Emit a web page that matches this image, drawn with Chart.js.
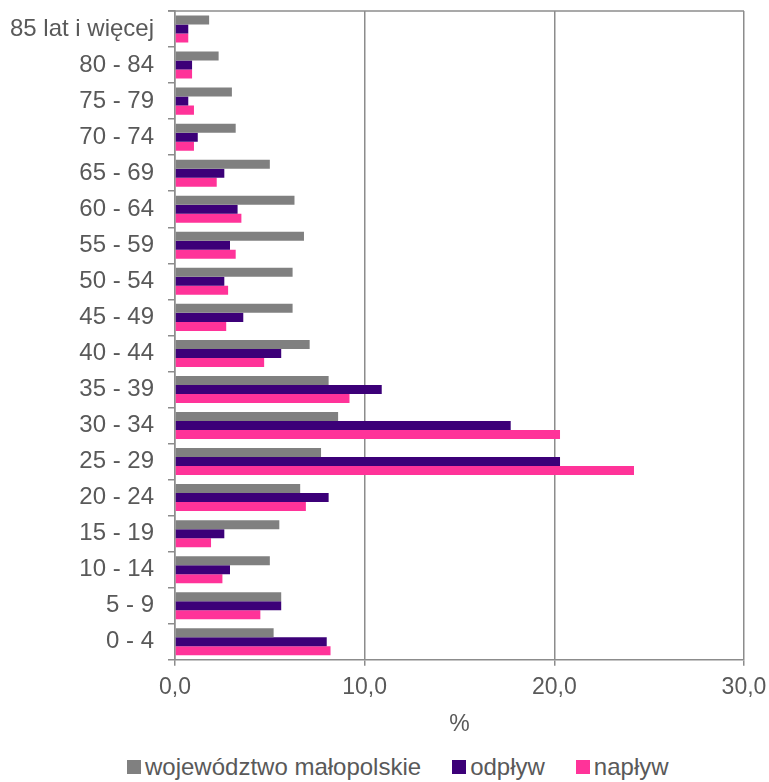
<!DOCTYPE html>
<html lang="pl">
<head>
<meta charset="utf-8">
<title>Struktura wieku</title>
<script src="https://cdn.jsdelivr.net/npm/chart.js@4.4.1/dist/chart.umd.min.js"></script>
<style>
  html, body { margin:0; padding:0; background:#fff; }
  #wrap { position:relative; width:769px; height:782px; font-family:"Liberation Sans", Arial, sans-serif; }
  #box { position:absolute; left:0; top:0; width:769px; height:738px; }
  #legend { position:absolute; left:127px; top:753px; display:flex; align-items:center; color:#595959; font-size:24px; line-height:28px; }
  .lg-item { display:flex; align-items:center; margin-right:31px; }
  .lg-box { width:14px; height:14px; margin-right:4px; }
</style>
</head>
<body>
<div id="wrap">
  <div id="box"><canvas id="age-chart"></canvas></div>
  <div id="legend"></div>
</div>
<script>
/* grupy wieku, od góry do dołu */
const AGE_GROUPS = ['85 lat i więcej','80 - 84','75 - 79','70 - 74','65 - 69','60 - 64','55 - 59','50 - 54',
                    '45 - 49','40 - 44','35 - 39','30 - 34','25 - 29','20 - 24','15 - 19','10 - 14','5 - 9','0 - 4'];

/* udział w % */
const MALOPOLSKA = [1.8, 2.3, 3.0, 3.2, 5.0, 6.3, 6.8, 6.2, 6.2, 7.1, 8.1, 8.6, 7.7, 6.6, 5.5, 5.0, 5.6, 5.2];
const ODPLYW     = [0.7, 0.9, 0.7, 1.2, 2.6, 3.3, 2.9, 2.6, 3.6, 5.6, 10.9, 17.7, 20.3, 8.1, 2.6, 2.9, 5.6, 8.0];
const NAPLYW     = [0.7, 0.9, 1.0, 1.0, 2.2, 3.5, 3.2, 2.8, 2.7, 4.7, 9.2, 20.3, 24.2, 6.9, 1.9, 2.5, 4.5, 8.2];

const SERIES_NAMES = ['województwo małopolskie', 'odpływ', 'napływ'];
const X_TICKS = [0, 10, 20, 30];

const COLORS = ['#808080', '#3c0078', '#ff3399'];
const GRID = '#8c8c8c', TXT = '#595959';

Chart.defaults.font.family = '"Liberation Sans", Arial, sans-serif';

/* górna krawędź obszaru wykresu, z kreską podziałki po lewej */
const topBorder = {
  id: 'topBorder',
  afterDraw(chart) {
    const { ctx, chartArea: a } = chart;
    ctx.save();
    ctx.strokeStyle = GRID;
    ctx.lineWidth = 1.5;
    ctx.beginPath();
    ctx.moveTo(a.left - 7, a.top);
    ctx.lineTo(a.right, a.top);
    ctx.stroke();
    ctx.restore();
  }
};

const series = [MALOPOLSKA, ODPLYW, NAPLYW];
const datasets = series.map((d, i) => ({
  label: SERIES_NAMES[i], data: d, backgroundColor: COLORS[i], borderWidth: 0,
  barPercentage: 1, categoryPercentage: 0.75
}));

new Chart(document.getElementById('age-chart'), {
  type: 'bar',
  data: { labels: AGE_GROUPS, datasets },
  plugins: [topBorder],
  options: {
    indexAxis: 'y', responsive: true, maintainAspectRatio: false, animation: false,
    layout: { padding: { left: 10, top: 11, right: 25, bottom: 0 } },
    plugins: { legend: { display: false }, tooltip: { enabled: false } },
    scales: {
      x: {
        min: X_TICKS[0], max: X_TICKS[X_TICKS.length - 1],
        afterBuildTicks: s => { s.ticks = X_TICKS.map(v => ({ value: v })); },
        afterFit: s => { s.paddingLeft = 0; s.paddingRight = 0; },
        ticks: { color: TXT, font: { size: 23 }, padding: 8, callback: v => v.toFixed(1).replace('.', ',') },
        grid: { color: GRID, lineWidth: 1.5, tickLength: 6, tickColor: GRID },
        border: { color: GRID, width: 1.5 },
        title: { display: true, text: '%', color: TXT, font: { size: 23 }, padding: { top: 1, bottom: 0 } }
      },
      y: {
        ticks: { color: TXT, font: { size: 24 }, padding: 14 },
        grid: { color: 'transparent', tickColor: GRID, tickLength: 7, lineWidth: 1.5, offset: true },
        border: { color: GRID, width: 1.5 },
        afterFit: s => { s.width = 165; s.paddingTop = 0; s.paddingBottom = 0; }
      }
    }
  }
});

/* legenda pod wykresem */
document.getElementById('legend').innerHTML = SERIES_NAMES.map((n, i) =>
  `<div class="lg-item"><div class="lg-box" style="background:${COLORS[i]}"></div><span>${n}</span></div>`).join('');
</script>
</body>
</html>
